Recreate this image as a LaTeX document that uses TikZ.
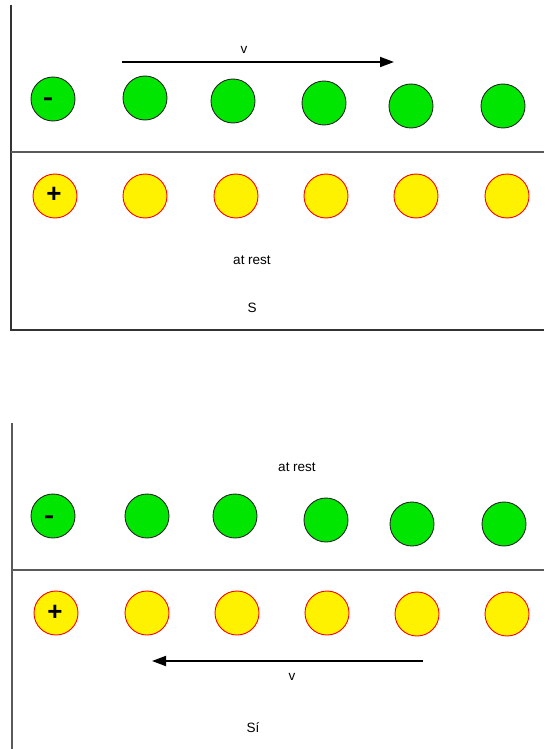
\documentclass[tikz,border=0pt]{standalone}
\usepackage{fontspec}
\setmainfont{Liberation Sans}
\usetikzlibrary{arrows.meta}
\definecolor{eGreen}{RGB}{0,230,0}
\definecolor{frameGray}{RGB}{90,90,90}
\tikzset{
  negcharge/.style={circle,draw=black!85,fill=eGreen,line width=0.9pt,minimum size=44pt,inner sep=0pt},
  poscharge/.style={circle,draw=red,fill=yellow,line width=0.9pt,minimum size=44pt,inner sep=0pt},
  framestroke/.style={draw=frameGray,line width=1.4pt},
  velarrow/.style={line width=1.8pt,-{Triangle[length=14pt,width=10pt]}},
  lbltext/.style={font=\fontsize{13.5}{15}\selectfont,inner sep=0pt},
  minustext/.style={font=\fontsize{24}{26}\selectfont\bfseries,inner sep=0pt,anchor=base,xscale=1.3},
  plustext/.style={font=\fontsize{26}{28}\selectfont\bfseries,inner sep=0pt,anchor=base}
}
\begin{document}
\begin{tikzpicture}[x=1pt,y=-1pt]
\useasboundingbox (0,0) rectangle (544,749);
% ---------- top panel ----------
\coordinate (tvTop) at (11,5);
\coordinate (tvBot) at (11,330);
\coordinate (tbR) at (544,330);
\coordinate (tmL) at (11,152);
\coordinate (tmR) at (544,152);
\draw[framestroke,draw=black!80] (tvTop) -- (tvBot) -- (tbR);
\draw[framestroke] (tmL) -- (tmR);
\node[negcharge] (tn1) at (53,99) {};
\node[negcharge] (tn2) at (145,98) {};
\node[negcharge] (tn3) at (233,101) {};
\node[negcharge] (tn4) at (324,103) {};
\node[negcharge] (tn5) at (411,106) {};
\node[negcharge] (tn6) at (503,106) {};
\node[minustext] (tminus) at (48,105.5) {-};
\node[poscharge] (tp1) at (55,196) {};
\node[poscharge] (tp2) at (145,196) {};
\node[poscharge] (tp3) at (236,196) {};
\node[poscharge] (tp4) at (326,196) {};
\node[poscharge] (tp5) at (416,196) {};
\node[poscharge] (tp6) at (507,196) {};
\node[plustext] (tplus) at (54,202) {+};
\coordinate (taS) at (122,62);
\coordinate (taE) at (394,62);
\draw[velarrow] (taS) -- (taE);
\node[lbltext] (tv) at (244,50) {v};
\node[lbltext] (trest) at (252,260) {at rest};
\node[lbltext] (tS) at (252,308) {S};
% ---------- bottom panel ----------
\coordinate (bvTop) at (12,423);
\coordinate (bvBot) at (12,749);
\coordinate (bmL) at (12,570);
\coordinate (bmR) at (544,570);
\draw[framestroke] (bvTop) -- (bvBot);
\draw[framestroke] (bmL) -- (bmR);
\node[negcharge] (bn1) at (53,516) {};
\node[negcharge] (bn2) at (147,516) {};
\node[negcharge] (bn3) at (235,516) {};
\node[negcharge] (bn4) at (326,520) {};
\node[negcharge] (bn5) at (412,524) {};
\node[negcharge] (bn6) at (504,524) {};
\node[minustext] (bminus) at (49,523.5) {-};
\node[poscharge] (bp1) at (56,613) {};
\node[poscharge] (bp2) at (147,613) {};
\node[poscharge] (bp3) at (237,613) {};
\node[poscharge] (bp4) at (327,613) {};
\node[poscharge] (bp5) at (417,614) {};
\node[poscharge] (bp6) at (507,614) {};
\node[plustext] (bplus) at (55,620) {+};
\coordinate (baS) at (423,661);
\coordinate (baE) at (152,661);
\draw[velarrow] (baS) -- (baE);
\node[lbltext] (bv) at (292,677) {v};
\node[lbltext] (brest) at (297,467) {at rest};
\node[lbltext] (bS) at (253,728) {Sí};
\end{tikzpicture}
\end{document}
